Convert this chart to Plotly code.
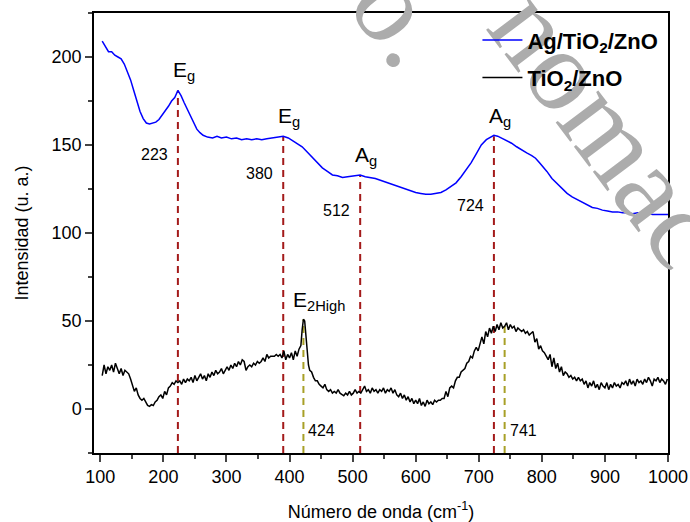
import plotly.graph_objects as go

# ---- data ----
blue_x = [103,108,113,118,123,128,133,138,143,148,153,158,163,168,173,178,183,188,193,198,203,208,213,218,223,228,233,238,243,248,253,258,263,270,278,285,292,300,308,316,324,332,340,348,356,364,372,380,390,398,405,412,420,428,436,444,452,460,468,476,484,492,500,506,512,520,528,536,544,552,560,568,576,584,592,600,608,616,624,632,640,648,656,664,672,680,688,696,704,712,718,724,730,736,744,752,760,768,776,784,790,796,802,808,816,824,832,840,848,856,864,872,880,888,896,904,912,920,928,936,944,952,960,968,976,984,992,1000]
blue_y = [209,206,203,203,201,200,199,196,192,187,181,175,169,165,162.5,162,162.5,163,164.5,167,169,172,175,177,181,178,174,170,166,162,159,157,155.5,154.5,154,155,154,154.5,153.5,154,153,153.5,153,153.5,153,153.5,154,154.5,155,154,152.5,151,149,146,143,140,137,135,133,132.5,131.5,132,132.5,133,133,132,131.5,131,130,129,128,127,126,125,124,123,122.5,122,122,122.5,123,124.5,126.5,128.5,132,136,140,145,150,153,154.5,155.5,155,154,152.5,151,149,147,145.5,144,142.5,140,137.5,135,131,128,125,122.5,120.5,119,117.5,116,114.5,114,113,112.5,112,112,111.5,111.5,111,111.5,111,111,110.5,110.5,110.5,110.5]

black_x = [103,106,109,112,115,118,121,124,127,130,133,136,139,142,145,148,151,154,157,160,163,166,169,172,175,178,181,184,187,190,193,196,199,202,205,208,211,214,217,220,223,226,229,232,235,238,241,244,247,250,253,256,259,262,265,268,271,274,277,280,283,286,289,292,295,298,301,304,307,310,313,316,319,322,325,328,331,334,337,340,343,346,349,352,355,358,361,364,367,370,373,376,379,382,385,388,391,394,397,400,403,406,409,412,415,418,420,422,424,426,428,430,432,435,438,441,444,447,450,453,456,459,462,465,468,471,474,477,480,483,486,489,492,495,498,501,504,507,510,513,516,519,522,525,528,531,534,537,540,543,546,549,552,555,558,561,564,567,570,573,576,579,582,585,588,591,594,597,600,603,606,609,612,615,618,621,624,627,630,633,636,639,642,645,648,651,654,657,660,663,666,669,672,675,678,681,684,687,690,693,696,699,702,705,708,711,714,717,720,723,726,729,732,735,738,741,744,747,750,753,756,759,762,765,768,771,774,777,780,783,786,789,792,795,798,801,804,807,810,813,816,819,822,825,828,831,834,837,840,843,846,849,852,855,858,861,864,867,870,873,876,879,882,885,888,891,894,897,900,903,906,909,912,915,918,921,924,927,930,933,936,939,942,945,948,951,954,957,960,963,966,969,972,975,978,981,984,987,990,993,996,999]
black_y = [19,25,20,24,22,25,21,26,23,20,23,19,22,21,20,17,13,10,12,8,6,5,6,4,2,1.5,2.5,2,4,5,7,8,6,10,8,12,13,15,14,16,15,16,14,17,15,17,16,18,15,19,16,18,20,17,19,16,20,18,21,19,22,20,21,23,20,22,24,22,25,23,26,24,27,25,28,27,22,24,25,24,26,25,27,26,27,29,27,31,29,30,30,30,31,30,31,29,33,28,31,29,32,28,33,30,34,36,45,51,50,42,33,25,22,21,18,16,16,14,13,12,14,11,10,11,9,10,9,11,9,8,7.5,9,8,10,8,9,11,9,10,9,11,13,10,11,9,12,10,11,9,11,10,12,9,11,10,12,9,11,8,7,9,6,8,5,7,4,6,3,5,3,6,2,4,1.5,5,3,4,2.5,5,4,5,5,6,6,10,7,12,13,12,16,18,18,21,22,23,26,27,30,29,33,35,33,38,41,37,44,41,46,43,47,44,48,45,49,46,47,49,45,48,46,47,44,46,45,44,45,43,44,42,43,44,38,40,34,36,33,32,30,28,31,24,29,23,26,21,24,19,21,20,18,19,17,18,16,18,16,17,14,16,12,15,13,16,12,14,11,15,13,12,15,11,14,12,15,13,14,12,15,14,16,13,17,14,16,13,17,15,16,14,17,15,18,16,13,17,16,18,15,17,16,14,17]

# Peaks of Ag/TiO2/ZnO (dashed dark red)
blue_peak_x = [223, 390, 512, 724]
blue_peak_y = [181, 155, 133, 155]
blue_peak_num = ["223", "380", "512", "724"]
blue_peak_mode = ["E<sub>g</sub>", "E<sub>g</sub>", "A<sub>g</sub>", "A<sub>g</sub>"]

# Peaks of TiO2/ZnO (dashed olive)
black_peak_x = [422, 741]
black_peak_y = [51, 48]
black_peak_num = ["424", "741"]

x_ticks = [100, 200, 300, 400, 500, 600, 700, 800, 900, 1000]
y_ticks = [0, 50, 100, 150, 200]

# label placement (layout only)
num_label_y = [144.5, 133.7, 112.7, 115.5]
low_label_y = -12

FONT = "Arial, Liberation Sans, sans-serif"
RED = "#a31a1a"
OLIVE = "#a8a027"
Y0 = -25

fig = go.Figure()

# dashed guide lines
dx, dy = [], []
for px, py in zip(blue_peak_x, blue_peak_y):
    dx += [px, px, None]
    dy += [Y0, py, None]
fig.add_trace(go.Scatter(x=dx, y=dy, mode="lines", showlegend=False, hoverinfo="skip",
                         line=dict(color=RED, width=2, dash="7px,5px")))
ox, oy = [], []
for px, py in zip(black_peak_x, black_peak_y):
    ox += [px, px, None]
    oy += [Y0, py, None]
fig.add_trace(go.Scatter(x=ox, y=oy, mode="lines", showlegend=False, hoverinfo="skip",
                         line=dict(color=OLIVE, width=2, dash="7px,5px")))

fig.add_trace(go.Scatter(x=blue_x, y=blue_y, mode="lines", name="Ag/TiO<sub>2</sub>/ZnO",
                         legendgroup="a", line=dict(color="#0000ff", width=1.5)))
fig.add_trace(go.Scatter(x=black_x, y=black_y, mode="lines", name="TiO<sub>2</sub>/ZnO",
                         legendgroup="b", line=dict(color="#000000", width=1.5)))

ann = []
for px, py, num, mode, ly in zip(blue_peak_x, blue_peak_y, blue_peak_num, blue_peak_mode, num_label_y):
    ann.append(dict(x=px, y=py, xref="x", yref="y", text=mode, showarrow=False,
                    xanchor="center", yanchor="bottom", xshift=6, yshift=4,
                    font=dict(family=FONT, size=21, color="black")))
    ann.append(dict(x=px, y=ly, xref="x", yref="y", text=num, showarrow=False,
                    xanchor="right", yanchor="middle", xshift=-8,
                    font=dict(family=FONT, size=16, color="black")))
ann.append(dict(x=black_peak_x[0], y=black_peak_y[0], xref="x", yref="y", text="E<sub>2High</sub>",
                showarrow=False, xanchor="center", yanchor="bottom", xshift=16, yshift=3,
                font=dict(family=FONT, size=21, color="black")))
for px, num in zip(black_peak_x, black_peak_num):
    ann.append(dict(x=px, y=low_label_y, xref="x", yref="y", text=num, showarrow=False,
                    xanchor="left", yanchor="middle", xshift=3,
                    font=dict(family=FONT, size=16, color="black")))

# watermark as shape labels (drawn above the plot but below the legend)
WM = dict(family="Liberation Serif, DejaVu Serif, serif", size=116, color="rgb(172,172,172)")
shapes = []
for txt, cx, cy in [("o.", 413, 9), ("nomac", 619, 120)]:
    px_ = (cx - 94) / 574
    py_ = 1 - (cy - 13) / 440
    shapes.append(dict(type="rect", xref="paper", yref="paper", layer="above",
                       x0=px_ - 0.001, x1=px_ + 0.001, y0=py_ - 0.001, y1=py_ + 0.001,
                       line=dict(width=0), fillcolor="rgba(0,0,0,0)",
                       label=dict(text=txt, textangle=53, textposition="middle center",
                                  font=WM)))

fig.update_layout(
    width=690, height=522,
    margin=dict(l=94, r=22, t=13, b=69),
    paper_bgcolor="white", plot_bgcolor="white",
    font=dict(family=FONT, color="black"),
    showlegend=True,
    legend=dict(x=0.668, y=0.986, xanchor="left", yanchor="top", bgcolor="rgba(0,0,0,0)",
                font=dict(family=FONT, size=22, color="black", weight="bold"),
                tracegroupgap=6, itemwidth=40),
    annotations=ann,
    shapes=shapes,
)
fig.update_xaxes(range=[90, 1000], tickvals=x_ticks, ticks="outside", ticklen=7, tickwidth=1.5,
                 showline=True, linecolor="black", linewidth=1.5, mirror=True, showgrid=False,
                 zeroline=False, tickfont=dict(family=FONT, size=18), automargin=False,
                 minor=dict(dtick=50, tick0=0, ticks="outside", ticklen=4, tickwidth=1.5),
                 title=dict(text="Número de onda (cm<sup>-1</sup>)", font=dict(family=FONT, size=18),
                            standoff=20))
fig.update_yaxes(range=[Y0, 225], tickvals=y_ticks, ticks="outside", ticklen=7, tickwidth=1.5,
                 showline=True, linecolor="black", linewidth=1.5, mirror=True, showgrid=False,
                 zeroline=False, tickfont=dict(family=FONT, size=18), automargin=False,
                 minor=dict(dtick=25, tick0=0, ticks="outside", ticklen=4, tickwidth=1.5),
                 title=dict(text="Intensidad (u. a.)", font=dict(family=FONT, size=18), standoff=18))

fig.write_html("out.html")
